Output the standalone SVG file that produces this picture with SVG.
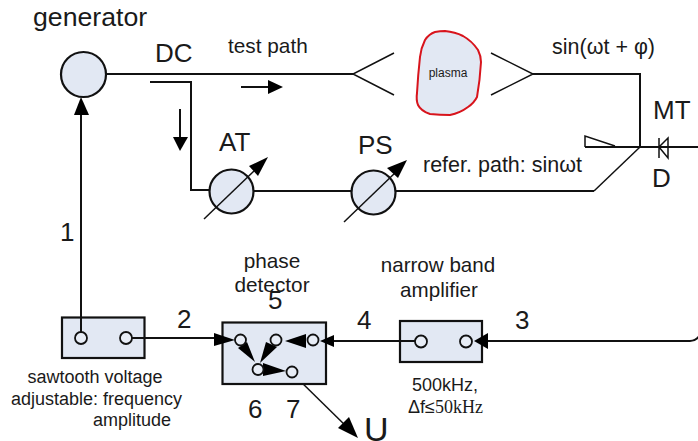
<svg xmlns="http://www.w3.org/2000/svg" width="698" height="441" viewBox="0 0 698 441">
<style>
text{font-family:"Liberation Sans",Arial,sans-serif;fill:#1a1a1a}
.c{text-anchor:middle}
.l{fill:none;stroke:#111;stroke-width:2}
.t{fill:none;stroke:#111;stroke-width:1.5}
.n{fill:#e2e8f3;stroke:#111;stroke-width:2.2}
.p{fill:#e8edf6;stroke:#111;stroke-width:1.8}
.a{fill:#000;stroke:none}
</style>
<rect width="698" height="441" fill="#fff"/>
<g id="connectors">
<path class="l" d="M107 74H353"/>
<path class="t" d="M394 53L353 74L394 95M491 53L533 74L491 95"/>
<path class="l" d="M533 74H640V147"/>
<path class="l" d="M585 147H698"/>
<path class="t" d="M585 147V136L615 146"/>
<path class="t" d="M640 147L594 191"/>
<path class="l" d="M396 191H594"/>
<path class="l" d="M254 191H351"/>
<path class="l" d="M150 82H191V190H209"/>
<path class="l" d="M241 87H270"/><path class="a" d="M268 80L283 87L268 94Z"/>
<path class="l" d="M180 109V140"/><path class="a" d="M173 137H188L180 151Z"/>
<path class="l" d="M81 337V112"/><path class="a" d="M81 97L89 115H74Z"/>
<path class="l" d="M132 338H224"/>
<path class="l" d="M700 335Q696 341 690 341H480"/>
<path class="l" d="M421 341H325"/>
<path class="t" d="M296 377L350 430"/>
<path class="a" d="M358 438L338 428L349 417Z"/>
</g>
<g id="generator"><circle class="n" cx="83.5" cy="74.5" r="22.5"/></g>
<g id="attenuator">
<circle class="n" cx="231.5" cy="191.5" r="22"/>
<path class="t" d="M204 219L254 171"/>
<path class="a" d="M268 157L258 176L249 166Z"/>
</g>
<g id="phase-shifter">
<circle class="n" cx="373.500" cy="192.500" r="22"/>
<path class="t" d="M344 222L396 172"/>
<path class="a" d="M407 160L398 178L387 168Z"/>
</g>
<g id="plasma">
<path d="M445 31Q455 32 463 36Q472 41 478 50Q481 56 481 62Q480 80 477 97Q474 103 468 107Q460 113 450 115Q440 115 430 114Q421 111 418 105Q416 100 417 93Q418 75 420 57Q421 48 425 40Q429 34 435 32Q440 31 445 31Z" fill="#e2e8f3" stroke="#d8141c" stroke-width="2"/>
<text class="c" x="448" y="77" font-size="12">plasma</text>
</g>
<g id="diode">
<path class="t" d="M659 138V158M659 147L668 138V158Z"/>
</g>
<g id="sawtooth">
<rect class="n" x="62" y="317.500" width="82.500" height="40.500"/>
<path class="l" d="M81 317V332"/>
<path class="l" d="M132 338H144"/>
<circle class="p" cx="81" cy="338" r="6"/>
<circle class="p" cx="126" cy="338" r="6"/>
<text class="c" x="95" y="383" font-size="18">sawtooth voltage</text>
<text class="c" x="96.500" y="405" font-size="18">adjustable: frequency</text>
<text class="c" x="132" y="426" font-size="18">amplitude</text>
</g>
<g id="phase-detector">
<rect class="n" x="222.500" y="322.500" width="103.500" height="61.500"/>
<path class="l" d="M222 339H226"/>
<path class="a" d="M235 340L214 333V346Z"/>
<path class="a" d="M255 362L238 348L247 342Z"/>
<path class="a" d="M260 363L266 342L277 347Z"/>
<path class="a" d="M286 371L263 363V376Z"/>
<path class="a" d="M285 341L306 334V348Z"/>
<path class="a" d="M320 341L334 335V347Z"/>
<circle class="p" cx="240.500" cy="340" r="5.500"/>
<circle class="p" cx="276" cy="340" r="5.500"/>
<circle class="p" cx="313" cy="340" r="5.500"/>
<circle class="p" cx="258" cy="369.500" r="5.500"/>
<circle class="p" cx="292" cy="372" r="5.500"/>
</g>
<g id="amplifier">
<rect class="n" x="400" y="321" width="82" height="41"/>
<path class="l" d="M400 341H415"/>
<circle class="p" cx="421" cy="341.500" r="6"/>
<circle class="p" cx="466" cy="341.500" r="6"/>
<path class="a" d="M474 341L488 333V349Z"/>
<text class="c" x="445" y="391" font-size="18">500kHz,</text>
<text x="408" y="413" font-size="18">Δf≤<tspan font-family="Liberation Serif">50kHz</tspan></text>
</g>
<g id="labels">
<text x="33" y="26" font-size="26.700">generator</text>
<text x="155" y="62" font-size="26">DC</text>
<text x="228" y="53" font-size="20.800">test path</text>
<text x="552" y="54" font-size="21.500">sin(ωt + φ)</text>
<text x="423" y="172" font-size="21.500">refer. path: sinωt</text>
<text x="219" y="151" font-size="26">AT</text>
<text x="358" y="154" font-size="26">PS</text>
<text x="653" y="119" font-size="26">MT</text>
<text x="652" y="187" font-size="26">D</text>
<text x="60" y="241" font-size="26">1</text>
<text x="177" y="328" font-size="26">2</text>
<text x="515" y="329" font-size="26">3</text>
<text x="357" y="329" font-size="26">4</text>
<text x="268" y="309" font-size="26">5</text>
<text x="248" y="418" font-size="26">6</text>
<text x="286" y="418" font-size="26">7</text>
<text x="364" y="441" font-size="34">U</text>
<text class="c" x="272" y="268" font-size="20.800">phase</text>
<text class="c" x="272" y="292" font-size="20.800">detector</text>
<text class="c" x="438" y="272" font-size="20.600">narrow band</text>
<text class="c" x="439" y="297" font-size="20.600">amplifier</text>
</g>
</svg>
